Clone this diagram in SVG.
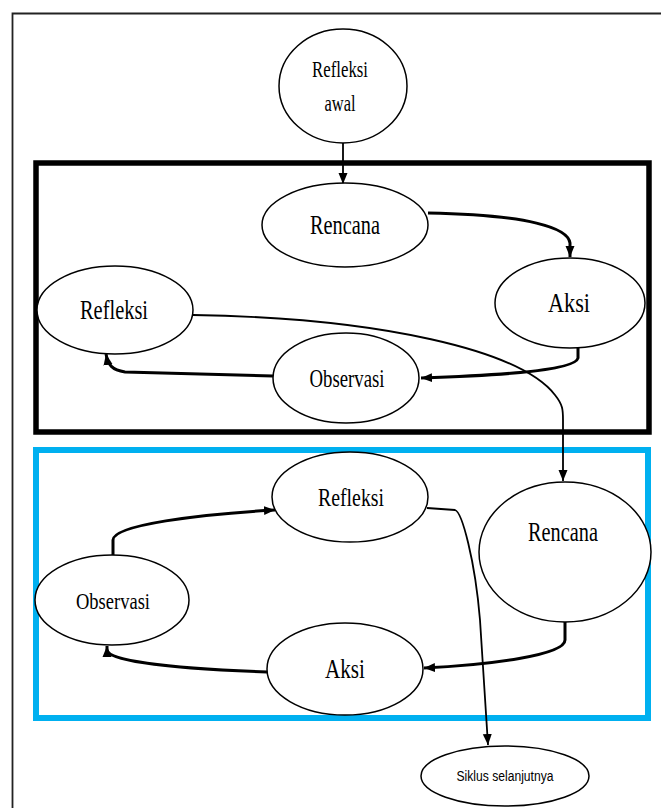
<svg xmlns="http://www.w3.org/2000/svg" width="661" height="808" viewBox="0 0 661 808">
<style>
.node ellipse{fill:#fff;stroke:#000;stroke-width:1.5}
.t{font-family:"Liberation Serif","Times New Roman",serif;fill:#000;text-anchor:middle}
.s{font-family:"Liberation Sans",Arial,sans-serif;fill:#000;text-anchor:middle}
.thick{fill:none;stroke:#000;stroke-width:3}
.thin{fill:none;stroke:#000;stroke-width:1.8}
</style>
<defs>
<marker id="ah" markerUnits="userSpaceOnUse" markerWidth="12" markerHeight="10" refX="11" refY="5" orient="auto">
<path d="M0,0.5 L11,5 L0,9.5 Z" fill="#000"/>
</marker>
</defs>
<rect width="661" height="808" fill="#fff"/>
<g id="frame">
<path d="M12.5,808 V13.5 H661" fill="none" stroke="#222" stroke-width="1.8"/>
</g>
<g id="box-cycle1">
<rect x="36" y="163" width="613" height="269" fill="none" stroke="#000" stroke-width="5.5"/>
</g>
<g id="box-cycle2">
<rect x="36" y="450" width="612" height="268" fill="none" stroke="#00B0F0" stroke-width="6"/>
</g>
<g id="connectors">
<path class="thin" d="M343,143 V184" marker-end="url(#ah)"/>
<path class="thick" d="M428,213 C530,215 568,228 570,243 V257" marker-end="url(#ah)"/>
<path class="thick" d="M578,348 V358 C575,372 480,376 421,378" marker-end="url(#ah)"/>
<path class="thick" d="M273,376 L125,372 C112,370 108,365 106,354" marker-end="url(#ah)"/>
<path class="thin" d="M193,315 C380,318 520,350 555,395 C563,405 563,410 563,420 V481" marker-end="url(#ah)"/>
<path class="thick" d="M113,555 V540 C113,525 200,514 275,510" marker-end="url(#ah)"/>
<path class="thin" d="M427,508 L455,510 C462,512 475,560 480,620 L488,745" marker-end="url(#ah)"/>
<path class="thick" d="M565,622 V640 C565,655 490,665 424,668" marker-end="url(#ah)"/>
<path class="thick" d="M267,672 C160,668 108,660 107,650 V646" marker-end="url(#ah)"/>
</g>
<g id="n-refleksi-awal" class="node">
<ellipse cx="343" cy="86" rx="64" ry="57"/>
<text class="t" x="340" y="77" font-size="23" textLength="56" lengthAdjust="spacingAndGlyphs">Refleksi</text>
<text class="t" x="340" y="111" font-size="23" textLength="31" lengthAdjust="spacingAndGlyphs">awal</text>
</g>
<g id="n-rencana-1" class="node">
<ellipse cx="345" cy="225" rx="83" ry="42"/>
<text class="t" x="345" y="234" font-size="27" textLength="70" lengthAdjust="spacingAndGlyphs">Rencana</text>
</g>
<g id="n-aksi-1" class="node">
<ellipse cx="570" cy="303" rx="75" ry="45"/>
<text class="t" x="569" y="312" font-size="27" textLength="42" lengthAdjust="spacingAndGlyphs">Aksi</text>
</g>
<g id="n-refleksi-1" class="node">
<ellipse cx="115" cy="310" rx="78" ry="44"/>
<text class="t" x="114" y="319" font-size="27" textLength="68" lengthAdjust="spacingAndGlyphs">Refleksi</text>
</g>
<g id="n-observasi-1" class="node">
<ellipse cx="346" cy="378" rx="73" ry="45"/>
<text class="t" x="347" y="387" font-size="25" textLength="75" lengthAdjust="spacingAndGlyphs">Observasi</text>
</g>
<g id="n-refleksi-2" class="node">
<ellipse cx="350" cy="497" rx="78" ry="45"/>
<text class="t" x="351" y="506" font-size="25" textLength="66" lengthAdjust="spacingAndGlyphs">Refleksi</text>
</g>
<g id="n-rencana-2" class="node">
<ellipse cx="565" cy="552" rx="86" ry="70"/>
<text class="t" x="563" y="541" font-size="27" textLength="70" lengthAdjust="spacingAndGlyphs">Rencana</text>
</g>
<g id="n-observasi-2" class="node">
<ellipse cx="112" cy="600" rx="77" ry="45"/>
<text class="t" x="113" y="609" font-size="24" textLength="74" lengthAdjust="spacingAndGlyphs">Observasi</text>
</g>
<g id="n-aksi-2" class="node">
<ellipse cx="345" cy="669" rx="78" ry="46"/>
<text class="t" x="345" y="678" font-size="27" textLength="40" lengthAdjust="spacingAndGlyphs">Aksi</text>
</g>
<g id="n-siklus" class="node">
<ellipse cx="505" cy="776" rx="84" ry="30"/>
<text class="s" x="505" y="781" font-size="14" textLength="97" lengthAdjust="spacingAndGlyphs">Siklus selanjutnya</text>
</g>
</svg>
